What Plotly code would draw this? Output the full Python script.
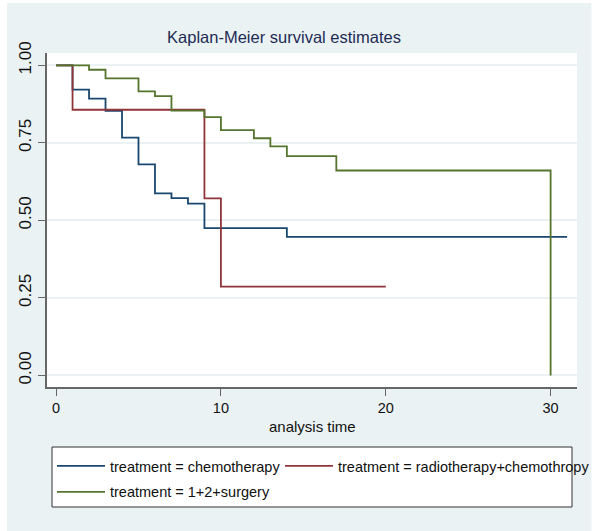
import plotly.graph_objects as go

# ---- data ----
chemo_time = [0, 1, 2, 3, 4, 5, 6, 7, 8, 9, 14, 31]
chemo_surv = [1.0, 0.922, 0.893, 0.853, 0.767, 0.681, 0.587, 0.572, 0.554, 0.475, 0.447, 0.447]

radio_time = [0, 1, 9, 10, 20]
radio_surv = [1.0, 0.857, 0.571, 0.286, 0.286]

surg_time = [0, 2, 3, 5, 6, 7, 9, 10, 12, 13, 14, 17, 30]
surg_surv = [1.0, 0.986, 0.958, 0.916, 0.901, 0.854, 0.833, 0.791, 0.765, 0.739, 0.707, 0.661, 0.0]

series_names = ["treatment = chemotherapy",
                "treatment = radiotherapy+chemothropy",
                "treatment = 1+2+surgery"]
series_colors = ["#1A476F", "#90353B", "#55752F"]
series_legends = ["legend", "legend2", "legend"]
series_groups = ["g1", "g2", "g3"]

y_ticks = [0, 0.25, 0.5, 0.75, 1.0]
y_tick_labels = ["0.00", "0.25", "0.50", "0.75", "1.00"]
x_ticks = [0, 10, 20, 30]
x_tick_labels = ["0", "10", "20", "30"]

FONT = "Liberation Sans, Arial, Helvetica, sans-serif"

W, H = 593, 531
L, R, T, B = 47, 16, 53, 144
PW, PH = W - L - R, H - T - B


def px(x):
    return (x - L) / PW


def py(y):
    return (H - B - y) / PH


fig = go.Figure()
for t, s, name, col, lg, grp in zip([chemo_time, radio_time, surg_time],
                                    [chemo_surv, radio_surv, surg_surv],
                                    series_names, series_colors,
                                    series_legends, series_groups):
    fig.add_trace(go.Scatter(x=t, y=s, mode="lines", name=name,
                             legend=lg, legendgroup=grp,
                             line=dict(color=col, width=1.8, shape="hv")))

shapes = [
    # legend box
    dict(type="rect", xref="paper", yref="paper", layer="above",
         x0=px(52), x1=px(572), y0=py(447), y1=py(507),
         fillcolor="white", line=dict(color="#333333", width=1)),
    # thin white outer frame
    dict(type="rect", xref="paper", yref="paper", layer="above",
         x0=px(0), x1=px(7), y0=py(0), y1=py(H), fillcolor="white", line_width=0),
    dict(type="rect", xref="paper", yref="paper", layer="above",
         x0=px(0), x1=px(W), y0=py(0), y1=py(3), fillcolor="white", line_width=0),
    dict(type="rect", xref="paper", yref="paper", layer="above",
         x0=px(591.5), x1=px(W), y0=py(0), y1=py(H), fillcolor="white", line_width=0),
]

legend_common = dict(orientation="v", xanchor="left", yanchor="top",
                     xref="container", yref="container",
                     bgcolor="rgba(0,0,0,0)", borderwidth=0, itemwidth=48,
                     font=dict(family=FONT, size=14.5, color="#111111"),
                     tracegroupgap=4, traceorder="grouped")

fig.update_layout(
    width=W, height=H,
    margin=dict(l=L, r=R, t=T, b=B, pad=0, autoexpand=False),
    paper_bgcolor="#EAF2F3",
    plot_bgcolor="white",
    title=dict(text="Kaplan-Meier survival estimates",
               font=dict(family=FONT, size=16.5, color="#1E2C55"),
               x=284 / W, xanchor="center", xref="container",
               y=1 - 37 / H, yanchor="middle"),
    xaxis=dict(range=[-0.55, 31.6], tickvals=x_ticks, ticktext=x_tick_labels,
               automargin=False,
               showgrid=False, zeroline=False,
               showline=True, linecolor="#666666", linewidth=2,
               ticks="outside", ticklen=7, tickcolor="#666666", tickwidth=1,
               tickfont=dict(family=FONT, size=14.5, color="#111111")),
    yaxis=dict(range=[-0.0375, 1.04], tickvals=y_ticks, ticktext=y_tick_labels,
               automargin=False,
               showgrid=True, gridcolor="#EAF2F3", gridwidth=1.5, zeroline=False,
               showline=True, linecolor="#666666", linewidth=2,
               ticks="outside", ticklen=7, tickcolor="#666666", tickwidth=1,
               tickangle=-90, ticklabelshift=-5, ticklabelstandoff=0,
               tickfont=dict(family=FONT, size=17, color="#111111")),
    annotations=[dict(text="analysis time", xref="paper", yref="paper",
                      x=0.5, y=py(426), xanchor="center", yanchor="middle",
                      showarrow=False,
                      font=dict(family=FONT, size=15, color="#111111"))],
    showlegend=True,
    legend=dict(x=52 / W, y=1 - 450 / H, **legend_common),
    legend2=dict(x=280 / W, y=1 - 450 / H, **legend_common),
    shapes=shapes,
)

fig.write_html("out.html",
               config={"displayModeBar": False},
               post_script="document.body.style.margin='0';"
                           "document.body.style.overflow='hidden';")
